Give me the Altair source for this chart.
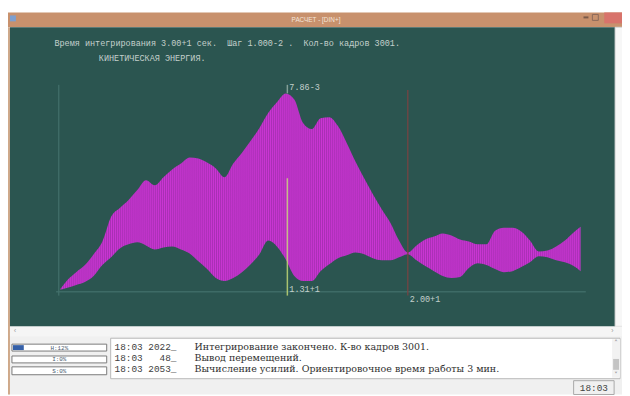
import altair as alt
import pandas as pd

# ---- data (time in s, kinetic energy in 1e-3 units) ----
t_vals = [0.1] + [0.5 * k for k in range(1, 60)] + [29.9]
upper = [0.12, 0.47, 0.78, 1.06, 1.49, 1.99, 2.97, 3.32, 3.64, 4.03, 4.42, 4.22, 4.54, 4.85, 5.08,
         5.32, 5.28, 5.12, 4.89, 4.54, 5.08, 5.51, 5.98, 6.49, 7.08, 7.51, 7.86, 7.62, 6.69, 6.45,
         6.88, 6.92, 6.57, 5.90, 5.16, 4.50, 3.87, 3.28, 2.74, 2.03, 1.56, 1.84, 2.07, 2.19, 2.31,
         2.23, 2.07, 1.99, 1.88, 1.88, 2.42, 2.54, 2.54, 2.39, 2.03, 1.60, 1.64, 1.80, 2.03, 2.35, 2.58]
lower = [0.08, 0.16, 0.27, 0.39, 0.63, 1.06, 1.37, 1.72, 1.88, 1.96, 1.84, 1.68, 1.76, 1.80, 1.68,
         1.52, 1.21, 0.90, 0.55, 0.43, 0.55, 0.78, 1.09, 1.49, 2.03, 1.80, 1.29, 0.63, 0.43, 0.43,
         0.82, 1.09, 1.33, 1.45, 1.56, 1.49, 1.33, 1.25, 1.25, 1.37, 1.49, 1.25, 1.02, 0.82, 0.63,
         0.55, 0.59, 0.94, 1.13, 1.06, 0.90, 0.78, 0.82, 0.98, 1.17, 1.41, 1.37, 1.25, 1.17, 1.02, 0.82]

cursor1_t = 13.1      # 1.31+1
peak_e = 7.86         # 7.86-3
cursor2_t = 20.0      # 2.00+1

NB = "\u00a0"
header1 = "Время интегрирования 3.00+1 сек.  Шаг 1.000-2 .  Кол-во кадров 3001.".replace(" ", NB)
header2 = "КИНЕТИЧЕСКАЯ ЭНЕРГИЯ.".replace(" ", NB)
window_title = "РАСЧЕТ - [DIN+]"
log_times = [s.replace(" ", NB) for s in ["18:03 2022_", "18:03   48_", "18:03 2053_"]]
log_msgs = ["Интегрирование закончено. К-во кадров 3001.",
            "Вывод перемещений.",
            "Вычисление усилий. Ориентировочное время работы 3 мин."]
progress = ["H:12%", "I:0%", "S:0%"]
clock = "18:03"

# ---- scales ----
XS = alt.Scale(domain=[-2.907, 32.274], nice=False, zero=False)
YS = alt.Scale(domain=[-4.028, 11.145], nice=False, zero=False)
MONO = "Liberation Mono"
one = pd.DataFrame({"a": [0]})
O = 8  # page margin offset


def box(x1, y1, x2, y2, fill, stroke=None, sw=1):
    kw = dict(fill=fill)
    if stroke:
        kw.update(stroke=stroke, strokeWidth=sw)
    return alt.Chart(one).mark_rect(**kw).encode(
        x=alt.value(x1 - O), x2=alt.value(x2 - O), y=alt.value(y1 - O), y2=alt.value(y2 - O))


def txt(s, x, y, size, color, font=MONO, align="left"):
    return alt.Chart(one).mark_text(text=s, fontSize=size, font=font, color=color,
                                    align=align, baseline="middle").encode(
        x=alt.value(x - O), y=alt.value(y - O))


layers = [
    box(7, 10, 631, 25, "#c8916d"),
    box(10, 13, 16, 19, "#7d9fd0"),
    box(612, 10, 631, 21, "#d8736b"),
    box(591, 14, 596, 16, "#7a5a4a"),
    box(600, 12, 606, 18, "#c8916d", "#8a6a5a"),
    txt(window_title, 320, 18, 6.5, "#f3e6da", "Liberation Sans", "center"),
    box(7, 25, 631, 397, "#f0f0f0"),
    box(7, 25, 10, 397, "#cfa98a"),
    box(10, 25, 623, 328, "#2b5550"),
    box(623, 25, 631, 328, "#f7f7f7", "#d0d0d0"),
    box(10, 328, 631, 338, "#f5f5f5"),
    txt("‹", 13, 333, 7, "#a0a0a0"),
    txt("›", 618, 333, 7, "#a0a0a0"),
    box(112, 340, 628, 381, "#ffffff", "#b8b8b8"),
    box(620, 341, 628, 380, "#f2f2f2"),
    box(621, 361, 627, 372, "#c4c4c4"),
    txt("˄", 624, 345, 7, "#808080", "DejaVu Sans", "center"),
    txt("˅", 624, 377, 7, "#808080", "DejaVu Sans", "center"),
]
for i, (py1, py2) in enumerate([(346, 353), (358, 365), (369, 377)]):
    layers.append(box(12, py1, 108, py2, "#ffffff", "#7a7a7a"))
    layers.append(txt(progress[i], 60, (py1 + py2) / 2, 6, "#4a5a70", MONO, "center"))
layers.append(box(13, 347, 24, 352, "#3560a8"))
for i, py in enumerate([349, 360, 371]):
    layers.append(txt(log_times[i], 116, py, 9.5, "#404040", MONO))
    layers.append(txt(log_msgs[i], 197, py, 9.6, "#303030", "DejaVu Serif"))
layers.append(box(581, 383, 622, 397, "#f0f0f0", "#a8a8a8"))
layers.append(txt(clock, 601.5, 390, 9.5, "#404040", MONO, "center"))

layers.append(txt(header1, 55, 41, 8.6, "#c4d0cc"))
layers.append(txt(header2, 100, 56, 8.6, "#c4d0cc"))

# ---- data layers ----
N = 265
stops = [alt.GradientStop(color=("#cb36d4" if k % 2 == 0 else "#a82fb4"), offset=k / (2 * N))
         for k in range(2 * N + 1)]
stripes = alt.Gradient(gradient="linear", stops=stops, x1=0, x2=1, y1=0, y2=0)

band = pd.DataFrame({"t": t_vals, "hi": upper, "lo": lower})
area = alt.Chart(band).mark_area(color=stripes, opacity=1, interpolate="monotone").encode(
    x=alt.X("t:Q", scale=XS, axis=None),
    y=alt.Y("hi:Q", scale=YS, axis=None),
    y2="lo:Q")

rules = pd.DataFrame({
    "t": [-0.15, 0.0, cursor1_t, cursor1_t, cursor2_t],
    "t2": [30.2, 0.0, cursor1_t, cursor1_t, cursor2_t],
    "e": [0.0, -0.15, -0.15, peak_e, -0.15],
    "e2": [0.0, 8.2, 4.5, 8.2, 8.0],
    "k": ["base", "left", "c1", "tick", "c2"],
})
rule_color = alt.Color("k:N", scale=alt.Scale(domain=["base", "left", "c1", "tick", "c2"],
                                              range=["#44716b", "#44716b", "#c9df78", "#9ab2aa", "#7c4242"]),
                       legend=None)
rule_op = alt.Opacity("k:N", scale=alt.Scale(domain=["base", "left", "c1", "tick", "c2"],
                                             range=[0.8, 0.8, 0.5, 0.8, 0.9]), legend=None)
rule_layer = alt.Chart(rules).mark_rule(strokeWidth=1.5).encode(
    x=alt.X("t:Q", scale=XS, axis=None), x2="t2:Q",
    y=alt.Y("e:Q", scale=YS, axis=None), y2="e2:Q",
    color=rule_color, opacity=rule_op)

labels = pd.DataFrame({
    "t": [cursor1_t, cursor1_t, cursor2_t],
    "e": [8.13, 0.12, -0.27],
    "s": [f"{peak_e:.2f}-3", f"{cursor1_t / 10:.2f}+1", f"{cursor2_t / 10:.2f}+1"],
})
label_layer = alt.Chart(labels).mark_text(font=MONO, fontSize=8.6, color="#c4d0cc",
                                          align="left", baseline="middle", dx=2).encode(
    x=alt.X("t:Q", scale=XS, axis=None), y=alt.Y("e:Q", scale=YS, axis=None), text="s:N")

layers += [area, rule_layer, label_layer]

chart = alt.layer(*layers).properties(
    width=622, height=388, autosize="none", padding=0, background="#ffffff"
).configure_view(stroke=None)

chart.save("out.html", embed_options={"renderer": "svg", "actions": False})
